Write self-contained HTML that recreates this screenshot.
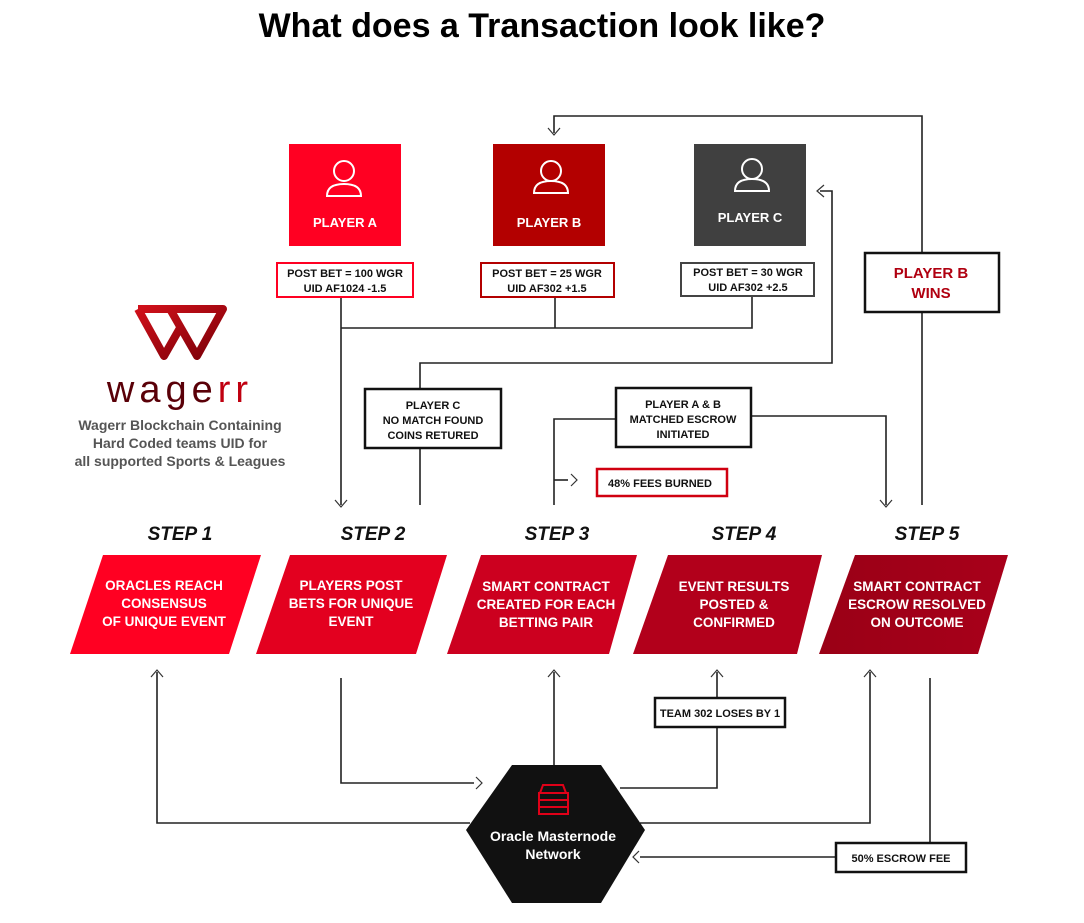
<!DOCTYPE html>
<html><head><meta charset="utf-8"><style>
html,body{margin:0;padding:0;background:#fff;width:1084px;height:923px;overflow:hidden}
svg{display:block}
text{font-family:"Liberation Sans",sans-serif}
</style></head><body>
<svg width="1084" height="923" viewBox="0 0 1084 923" xmlns="http://www.w3.org/2000/svg">
<defs>
<linearGradient id="wg" x1="0" y1="0" x2="1" y2="1"><stop offset="0" stop-color="#d0101a"/><stop offset="1" stop-color="#7a0008"/></linearGradient>
<linearGradient id="s5" x1="0" y1="0" x2="1" y2="0"><stop offset="0" stop-color="#9a0016"/><stop offset="1" stop-color="#a8001a"/></linearGradient>
</defs>
<text x="542" y="37" text-anchor="middle" font-size="34" font-weight="bold" fill="#000">What does a Transaction look like?</text>

<!-- logo -->
<g fill="none" stroke="url(#wg)" stroke-width="8" stroke-linejoin="round">
<path d="M138,309 H223 L197,356 L170,309 M138,309 L164,356 L180,328"/>
</g>
<text x="180" y="402" text-anchor="middle" font-size="38" fill="#5a0008" letter-spacing="5">wage<tspan fill="#c00010">rr</tspan></text>
<g font-size="14" font-weight="bold" fill="#555" text-anchor="middle">
<text x="180" y="430">Wagerr Blockchain Containing</text>
<text x="180" y="448">Hard Coded teams UID for</text>
<text x="180" y="466">all supported Sports &amp; Leagues</text>
</g>

<!-- players -->
<g>
<rect x="289" y="144" width="112" height="102" fill="#ff0022"/>
<rect x="493" y="144" width="112" height="102" fill="#b30000"/>
<rect x="694" y="144" width="112" height="102" fill="#404040"/>
<g fill="none" stroke="#fff" stroke-width="2">
<circle cx="344" cy="171" r="10"/><path d="M327,196 Q327,184 344,184 Q361,184 361,196 Z"/>
<circle cx="551" cy="171" r="10"/><path d="M534,193 Q534,181 551,181 Q568,181 568,193 Z"/>
<circle cx="752" cy="169" r="10"/><path d="M735,191 Q735,179 752,179 Q769,179 769,191 Z"/>
</g>
<g font-size="13" font-weight="bold" fill="#fff" text-anchor="middle">
<text x="345" y="227">PLAYER A</text>
<text x="549" y="227">PLAYER B</text>
<text x="750" y="222">PLAYER C</text>
</g>
</g>

<!-- bet boxes -->
<g fill="#fff" stroke-width="2">
<rect x="277" y="263" width="136" height="34" stroke="#ff0022"/>
<rect x="481" y="263" width="133" height="34" stroke="#b30000"/>
<rect x="681" y="263" width="133" height="33" stroke="#444"/>
</g>
<g font-size="11" font-weight="bold" fill="#111" text-anchor="middle">
<text x="345" y="277">POST BET = 100 WGR</text><text x="345" y="292">UID AF1024 -1.5</text>
<text x="547" y="277">POST BET = 25 WGR</text><text x="547" y="292">UID AF302 +1.5</text>
<text x="748" y="276">POST BET = 30 WGR</text><text x="748" y="291">UID AF302 +2.5</text>
</g>

<!-- connectors top -->
<g fill="none" stroke="#222" stroke-width="1.6">
<path d="M341,298 V505"/>
<path d="M341,328 H752 V297"/>
<path d="M555,298 V328"/>
<path d="M420,388 V363 H832 V191 H820"/>
<path d="M420,448 V505"/>
<path d="M554,133 V116 H922 V252"/>
<path d="M922,312 V505"/>
<path d="M615,419 H554 V505"/>
<path d="M554,480 H568"/>
<path d="M752,416 H886 V505"/>
</g>
<g fill="none" stroke="#333" stroke-width="1.2">
<path d="M335,500 L341,507 L347,500"/>
<path d="M548,128 L554,135 L560,128"/>
<path d="M824,185 L817,191 L824,197"/>
<path d="M571,474 L577,480 L571,486"/>
<path d="M880,500 L886,507 L892,500"/>
</g>

<g fill="#fff" stroke="#111" stroke-width="2.5">
<rect x="365" y="389" width="136" height="59"/>
<rect x="616" y="388" width="135" height="59"/>
<rect x="865" y="253" width="134" height="59"/>
</g>
<rect x="597" y="469" width="130" height="27" fill="#fff" stroke="#d00010" stroke-width="2.5"/>
<g font-size="11" font-weight="bold" fill="#111" text-anchor="middle">
<text x="433" y="409">PLAYER C</text><text x="433" y="424">NO MATCH FOUND</text><text x="433" y="439">COINS RETURED</text>
<text x="683" y="408">PLAYER A &amp; B</text><text x="683" y="423">MATCHED ESCROW</text><text x="683" y="438">INITIATED</text>
<text x="660" y="487">48% FEES BURNED</text>
</g>
<g font-size="15" font-weight="bold" fill="#b00010" text-anchor="middle">
<text x="931" y="278">PLAYER B</text><text x="931" y="298">WINS</text>
</g>

<!-- steps -->
<g font-size="19" font-weight="bold" font-style="italic" fill="#111" text-anchor="middle">
<text x="180" y="540">STEP 1</text>
<text x="373" y="540">STEP 2</text>
<text x="557" y="540">STEP 3</text>
<text x="744" y="540">STEP 4</text>
<text x="927" y="540">STEP 5</text>
</g>
<polygon points="103,555 261,555 229,654 70,654" fill="#ff0022"/>
<polygon points="290,555 447,555 416,654 256,654" fill="#e3001f"/>
<polygon points="481,555 637,555 609,654 447,654" fill="#cc001f"/>
<polygon points="668,555 822,555 797,654 633,654" fill="#b2001b"/>
<polygon points="855,555 1008,555 978,654 819,654" fill="url(#s5)"/>
<g font-size="13.5" font-weight="bold" fill="#fff" text-anchor="middle">
<text x="164" y="590">ORACLES REACH</text><text x="164" y="608">CONSENSUS</text><text x="164" y="626">OF UNIQUE EVENT</text>
<text x="351" y="590">PLAYERS POST</text><text x="351" y="608">BETS FOR UNIQUE</text><text x="351" y="626">EVENT</text>
<text x="546" y="591">SMART CONTRACT</text><text x="546" y="609">CREATED FOR EACH</text><text x="546" y="627">BETTING PAIR</text>
<text x="734" y="591">EVENT RESULTS</text><text x="734" y="609">POSTED &amp;</text><text x="734" y="627">CONFIRMED</text>
<text x="917" y="591">SMART CONTRACT</text><text x="917" y="609">ESCROW RESOLVED</text><text x="917" y="627">ON OUTCOME</text>
</g>

<!-- bottom connectors -->
<g fill="none" stroke="#222" stroke-width="1.6">
<path d="M157,672 V823 H470"/>
<path d="M341,678 V783 H474"/>
<path d="M554,672 V770"/>
<path d="M717,672 V697"/>
<path d="M717,728 V788 H620"/>
<path d="M870,672 V823 H640"/>
<path d="M930,678 V843"/>
<path d="M835,857 H640"/>
</g>
<g fill="none" stroke="#333" stroke-width="1.2">
<path d="M151,677 L157,670 L163,677"/>
<path d="M548,677 L554,670 L560,677"/>
<path d="M711,677 L717,670 L723,677"/>
<path d="M864,677 L870,670 L876,677"/>
<path d="M476,777 L482,783 L476,789"/>
<path d="M639,851 L633,857 L639,863"/>
</g>
<rect x="655" y="698" width="130" height="29" fill="#fff" stroke="#111" stroke-width="2.5"/>
<rect x="836" y="843" width="130" height="29" fill="#fff" stroke="#111" stroke-width="2.5"/>
<g font-size="11" font-weight="bold" fill="#111" text-anchor="middle">
<text x="720" y="717">TEAM 302 LOSES BY 1</text>
<text x="901" y="862">50% ESCROW FEE</text>
</g>

<!-- hexagon -->
<polygon points="512,765 601,765 645,830 601,903 512,903 466,830" fill="#111"/>
<g fill="none" stroke="#e00018" stroke-width="2">
<path d="M540,793 L543,785 H563 L566,793"/>
<rect x="539" y="793" width="29" height="7"/>
<rect x="539" y="800" width="29" height="7"/>
<rect x="539" y="807" width="29" height="7"/>
</g>
<g font-size="14" font-weight="bold" fill="#fff" text-anchor="middle">
<text x="553" y="841">Oracle Masternode</text>
<text x="553" y="859">Network</text>
</g>
</svg>
</body></html>
